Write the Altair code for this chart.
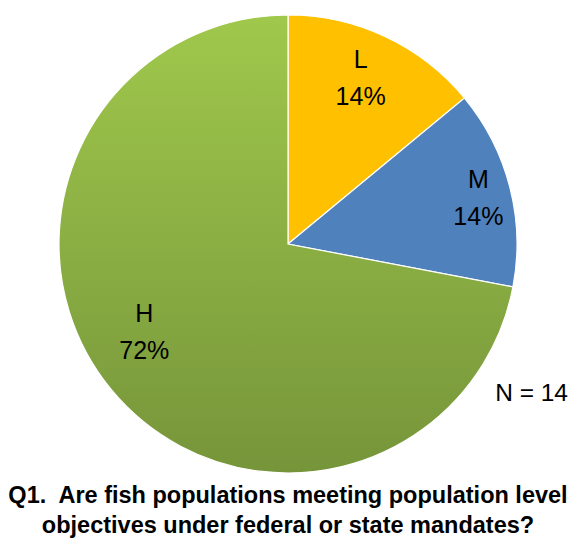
import altair as alt
import pandas as pd

categories = ["L", "M", "H"]
values = [14, 14, 72]
order_idx = [0, 1, 2]
n_label = "N = 14"
title_lines = ["Q1.\u00a0 Are fish populations meeting population level",
               "objectives under federal or state mandates?"]

df = pd.DataFrame({"cat": categories, "value": values, "idx": order_idx})

CX, CY, R = 280, 236, 229
LABEL_R = 180
# per-label nudges (style): dx, dy
nudges = {"L": (-4, -21), "M": (16, -19.5), "H": (-5, -44.5)}

green_grad = {
    "gradient": "linear", "x1": 0, "y1": 0, "x2": 0, "y2": 1,
    "stops": [{"offset": 0, "color": "#A0C84C"}, {"offset": 1, "color": "#76953A"}],
}

arcs = alt.Chart(df).mark_arc(radius=R, stroke="white", strokeWidth=1.2).encode(
    theta=alt.Theta("value:Q", stack=True),
    order=alt.Order("idx:Q"),
    x=alt.value(CX), y=alt.value(CY),
    fill=alt.condition(
        "datum.cat == 'H'",
        alt.value(green_grad),
        alt.Fill("cat:N", scale=alt.Scale(domain=["L", "M"], range=["#FFC000", "#4F81BD"]), legend=None),
    ),
)

label_layers = []
for c in categories:
    ddx, ddy = nudges[c]
    lay = alt.Chart(df).transform_window(
        cum="sum(value)", sort=[alt.SortField("idx")], frame=[None, 0]
    ).transform_joinaggregate(total="sum(value)").transform_calculate(
        mid="(datum.cum - datum.value / 2) / datum.total",
        label="datum.cat + '\\n' + datum.value + '%'",
    ).transform_filter(f"datum.cat == '{c}'").mark_text(
        font="Liberation Sans", fontSize=25, lineBreak="\n", lineHeight=37, color="black",
        align="center", baseline="middle", dx=ddx, dy=ddy,
    ).encode(
        theta=alt.Theta("mid:Q", scale=alt.Scale(domain=[0, 1], range=[0, 6.283185307179586])),
        radius=alt.value(LABEL_R),
        x=alt.value(CX), y=alt.value(CY),
        text="label:N",
    )
    label_layers.append(lay)

ndf = pd.DataFrame({"t": [n_label]})
ntext = alt.Chart(ndf).mark_text(
    font="Liberation Sans", fontSize=24.5, color="black", align="right", baseline="middle"
).encode(x=alt.value(560), y=alt.value(386), text="t:N")

tdf = pd.DataFrame({"t": title_lines, "i": [0, 1]})
ttext = alt.Chart(tdf).transform_calculate(yy="495 + datum.i * 30").mark_text(
    font="Liberation Sans", fontSize=23.5, fontWeight="bold", color="black",
    align="center", baseline="alphabetic"
).encode(x=alt.value(280), y=alt.Y("yy:Q", scale=None), text="t:N")

chart = alt.layer(arcs, *label_layers, ntext, ttext).resolve_scale(theta="independent").properties(
    width=560, height=531, padding=0, autosize=alt.AutoSizeParams(type="none")
).configure_view(stroke=None)

chart.save("out.html", embed_options={"renderer": "svg", "actions": False})
